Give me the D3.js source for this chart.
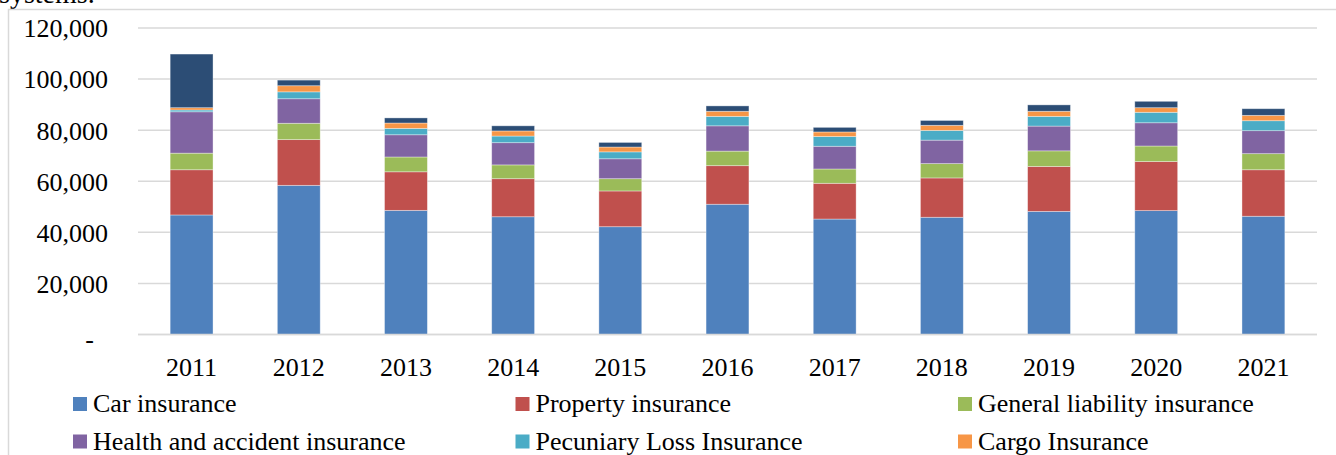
<!DOCTYPE html>
<html>
<head>
<meta charset="utf-8">
<script src="https://cdn.jsdelivr.net/npm/d3@7"></script>
<style>
  body { margin: 0; background: #fff; }
  svg { display: block; font-family: "Liberation Serif", "Times New Roman", serif; }
</style>
</head>
<body>
<div id="chart"></div>
<script>
// data
const years = ["2011", "2012", "2013", "2014", "2015", "2016", "2017", "2018", "2019", "2020", "2021"];
const seriesNames = ["Car insurance", "Property insurance", "General liability insurance",
    "Health and accident insurance", "Pecuniary Loss Insurance", "Cargo Insurance", "Other insurance"];
const carInsurance      = [46800, 58400, 48600, 46100, 42200, 51000, 45200, 45900, 48200, 48500, 46300];
const propertyInsurance = [17700, 17900, 15100, 14900, 14000, 15100, 14000, 15400, 17600, 19200, 18200];
const generalLiability  = [6500, 6400, 5800, 5400, 4800, 5700, 5600, 5600, 6100, 6100, 6300];
const healthAccident    = [16200, 9600, 8700, 8700, 7800, 9900, 8900, 9200, 9700, 9100, 9000];
const pecuniaryLoss     = [700, 2700, 2500, 2600, 2700, 3700, 3800, 3800, 3800, 4100, 3900];
const cargoInsurance    = [900, 2400, 2100, 2000, 1900, 2000, 1800, 2000, 2000, 1800, 2100];
const otherInsurance    = [21000, 2200, 2000, 2000, 1800, 2100, 1800, 1900, 2500, 2500, 2600];
const yTicks = [0, 20000, 40000, 60000, 80000, 100000, 120000];
const colors = ["#4F81BD", "#C0504D", "#9BBB59", "#8064A2", "#4BACC6", "#F79646", "#2C4D75"];

const seriesValues = [carInsurance, propertyInsurance, generalLiability, healthAccident,
    pecuniaryLoss, cargoInsurance, otherInsurance];

const rows = years.map((yr, i) => {
    const row = { year: yr };
    seriesNames.forEach((s, j) => row[s] = seriesValues[j][i]);
    return row;
});

const W = 1336, H = 455;
const plot = { left: 138, right: 1317, top: 28, bottom: 334.5 };

const svg = d3.select("#chart")
    .append("svg")
        .attr("width", W)
        .attr("height", H);

// text of the page above the chart, cut off
svg.append("text")
    .attr("x", -1)
    .attr("y", 3)
    .style("font-size", "28px")
    .attr("fill", "#000")
    .text("systems.");

// chart frame
svg.append("path")
    .attr("d", `M8.5,${H} V9.5 H${W}`)
    .attr("fill", "none")
    .attr("stroke", "#d9d9d9")
    .attr("stroke-width", 1.5);

const x = d3.scaleBand()
    .domain(years)
    .range([plot.left, plot.right])
    .paddingInner(0.6)
    .paddingOuter(0.3);

const y = d3.scaleLinear()
    .domain([0, 120000])
    .range([plot.bottom, plot.top]);

// gridlines
svg.append("g")
    .selectAll("line")
    .data(yTicks)
    .join("line")
        .attr("x1", plot.left)
        .attr("x2", plot.right)
        .attr("y1", d => y(d))
        .attr("y2", d => y(d))
        .attr("stroke", "#d9d9d9")
        .attr("stroke-width", 1.5);

// y labels
const yAxis = svg.append("g")
    .attr("transform", `translate(108,0)`)
    .call(d3.axisLeft(y).tickValues(yTicks).tickSize(0).tickPadding(0)
        .tickFormat(d => d === 0 ? "-" : d3.format(",")(d)));
yAxis.select(".domain").remove();
yAxis.selectAll("text")
    .attr("fill", "#000")
    .style("font-size", "26px")
    .style("font-family", "Liberation Serif, serif")
    .attr("dy", "0.34em");
yAxis.selectAll(".tick")
    .filter(d => d === 0)
    .select("text")
    .attr("x", -14)
    .attr("dy", "0.5em");

// stacked bars
const stack = d3.stack().keys(seriesNames);
const layers = stack(rows);

svg.append("g")
    .selectAll("g")
    .data(layers)
    .join("g")
        .attr("fill", (d, i) => colors[i])
    .selectAll("rect")
    .data(d => d)
    .join("rect")
        .attr("x", d => x(d.data.year))
        .attr("y", d => y(d[1]))
        .attr("width", x.bandwidth())
        .attr("height", d => y(d[0]) - y(d[1]))
        .attr("stroke", "rgba(255,255,255,0.45)")
        .attr("stroke-width", 0.8);

// baseline
svg.append("line")
    .attr("x1", plot.left)
    .attr("x2", plot.right)
    .attr("y1", y(0))
    .attr("y2", y(0))
    .attr("stroke", "#d9d9d9")
    .attr("stroke-width", 1.5);

// x labels
const xAxis = svg.append("g")
    .attr("transform", `translate(0,${plot.bottom})`)
    .call(d3.axisBottom(x).tickSize(0).tickPadding(0));
xAxis.select(".domain").remove();
xAxis.selectAll("text")
    .attr("fill", "#000")
    .attr("y", 41.5)
    .attr("dy", 0)
    .style("font-size", "26px")
    .style("font-family", "Liberation Serif, serif");

// legend: only the rows visible in the picture (the last row falls below the crop)
const legendNames = seriesNames.slice(0, 6);
const legend = svg.append("g");
const legendItems = legend.selectAll("g")
    .data(legendNames)
    .join("g")
        .attr("transform", (d, i) => `translate(${73 + (i % 3) * 442.5},${412 + Math.floor(i / 3) * 37.5})`);

legendItems.append("rect")
    .attr("x", 0)
    .attr("y", -15)
    .attr("width", 14)
    .attr("height", 14)
    .attr("fill", (d, i) => colors[i]);

legendItems.append("text")
    .attr("x", 20)
    .attr("y", 0)
    .attr("fill", "#000")
    .style("font-size", "26px")
    .text(d => d);
</script>
</body>
</html>
